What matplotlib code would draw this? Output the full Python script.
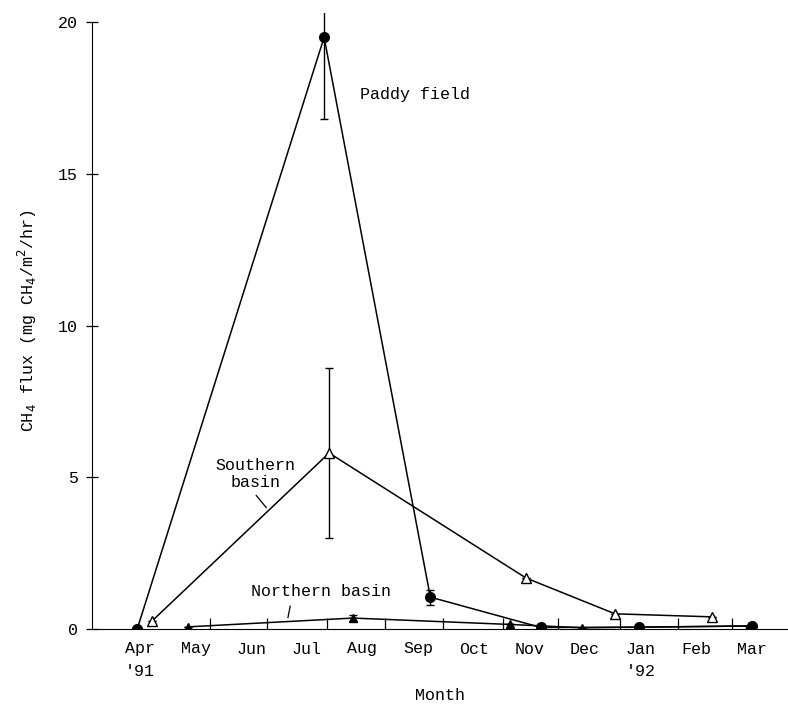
import matplotlib
matplotlib.use("Agg")
import matplotlib.pyplot as plt
import numpy as np

months = ["Apr\n'91", "May", "Jun", "Jul", "Aug", "Sep", "Oct", "Nov", "Dec", "Jan\n'92", "Feb", "Mar"]
month_pos = list(range(12))
minor_ticks = [1.26, 2.28, 3.36, 4.41, 5.45, 6.53, 7.52, 8.63, 9.68, 10.65]

paddy_x = [-0.05, 3.31, 5.22, 7.21, 8.97, 11.0]
paddy_y = [0.0, 19.5, 1.05, 0.05, 0.06, 0.1]
paddy_err = [0, 2.7, 0.25, 0, 0, 0]

south_x = [0.22, 3.40, 6.94, 8.54, 10.29]
south_y = [0.27, 5.8, 1.68, 0.5, 0.4]
south_err = [0, 2.8, 0, 0, 0]

north_x = [0.86, 3.83, 6.65, 7.95, 10.95]
north_y = [0.07, 0.36, 0.15, 0.04, 0.1]
north_err = [0, 0.1, 0, 0, 0]

plt.rcParams['font.family'] = ['Liberation Mono', 'DejaVu Sans Mono']
fig = plt.figure(figsize=(7.88, 7.06), dpi=100)
ax = fig.add_axes([92/788, 77/706, 1 - 92/788, (629-13)/706])

ax.errorbar(paddy_x, paddy_y, yerr=paddy_err, color='black', lw=1.1, marker='o',
            ms=7, mfc='black', mec='black', capsize=3, elinewidth=1.0)
ax.errorbar(south_x, south_y, yerr=south_err, color='black', lw=1.1, marker='^',
            ms=6.5, mfc='white', mec='black', capsize=3, elinewidth=1.0)
ax.errorbar(north_x, north_y, yerr=north_err, color='black', lw=1.1, marker='^',
            ms=6, mfc='black', mec='black', capsize=3, elinewidth=1.0)

ax.set_xlim(-0.863, 11.65)
ax.set_ylim(0, 20.3)
ax.spines['top'].set_visible(False)
ax.spines['right'].set_visible(False)
ax.spines['left'].set_bounds(0, 20)
ax.set_yticks([0, 5, 10, 15, 20])
ax.set_xticks(month_pos)
ax.set_xticklabels(months, fontsize=12, linespacing=1.6, va='top')
ax.set_xticks(minor_ticks, minor=True)
ax.tick_params(axis='x', which='major', length=0, pad=9)
ax.tick_params(axis='x', which='minor', direction='in', length=8, width=0.9)
ax.tick_params(axis='y', direction='inout', length=8, width=0.9, labelsize=12, pad=6)
for lbl in ax.get_xticklabels():
    lbl.set_horizontalalignment('center')

ax.set_xlabel('Month', fontsize=12, labelpad=7)
ax.set_ylabel('CH$_4$ flux (mg CH$_4$/m$^2$/hr)', fontsize=12, labelpad=14)

ax.text(3.96, 17.6, 'Paddy field', fontsize=12, ha='left', va='center')
ax.text(2.07, 5.1, 'Southern\nbasin', fontsize=12, ha='center', va='center', linespacing=1.15)
ax.plot([2.09, 2.27], [4.4, 4.0], color='black', lw=0.9)
ax.text(3.25, 1.25, 'Northern basin', fontsize=12, ha='center', va='center')
ax.plot([2.70, 2.66], [0.75, 0.38], color='black', lw=0.9)

fig.savefig('out.png', dpi=100)
